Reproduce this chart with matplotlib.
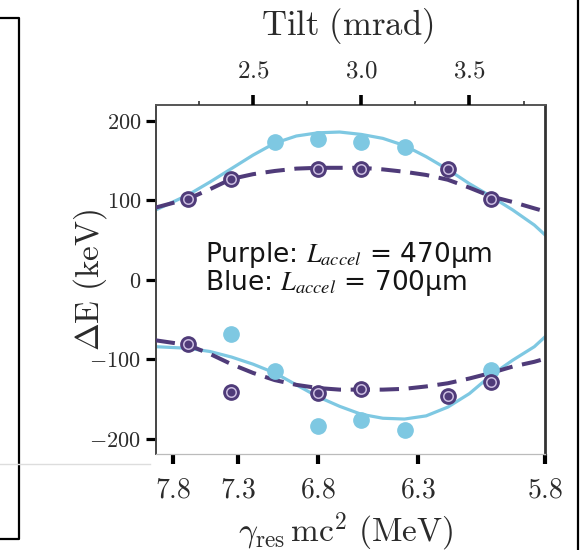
import matplotlib
matplotlib.use("Agg")
import matplotlib.pyplot as plt
from matplotlib.lines import Line2D
from matplotlib.ticker import FixedLocator, FixedFormatter

# ---- data -------------------------------------------------------------
# measured energy shifts (keV) vs. tilt (mrad)
purple_up_tilt = [2.2, 2.4, 2.8, 3.0, 3.4, 3.6]
purple_up_dE = [102, 127, 139, 139, 139, 102]
purple_lo_tilt = [2.2, 2.4, 2.8, 3.0, 3.4, 3.6]
purple_lo_dE = [-81, -141, -142, -137, -146, -129]

blue_up_tilt = [2.6, 2.8, 3.0, 3.2]
blue_up_dE = [174, 177, 174, 167]
blue_lo_tilt = [2.4, 2.6, 2.8, 3.0, 3.2, 3.6]
blue_lo_dE = [-68, -115, -184, -176, -189, -113]

# fitted model curves
fit_tilt = [2.05, 2.2, 2.3, 2.4, 2.5, 2.6, 2.7, 2.8, 2.9, 3.0, 3.1, 3.2,
            3.3, 3.4, 3.5, 3.6, 3.7, 3.8, 3.852]
blue_fit_up = [88, 107, 123, 140, 157, 172, 181, 185, 186, 183, 178, 169,
               155, 139, 121, 105, 88, 69, 56]
blue_fit_lo = [-84, -86, -90, -97, -106, -117, -132, -147, -159, -169, -174,
               -175, -171, -160, -143, -120, -101, -84, -71]
purple_fit_up = [91, 102, 114, 127, 133, 137, 140, 141, 141, 141, 139, 136,
                 132, 126, 116, 105, 98, 90, 86]
purple_fit_lo = [-76, -82, -93, -106, -117, -126, -132, -136, -138, -138,
                 -138, -137, -134, -130, -124, -117, -109, -103, -99]

# axis ticks
tilt_ticks = [2.5, 3.0, 3.5]
tilt_minor = [2.25, 2.75, 3.25, 3.75]
energy_ticks = [7.8, 7.3, 6.8, 6.3, 5.8]
dE_ticks = [-200, -100, 0, 100, 200]

# resonance energy (MeV) <-> tilt (mrad): tilt = K / E^2
K_TILT = 129.5


def energy_to_tilt(e):
    return K_TILT / e ** 2


# ---- styling ----------------------------------------------------------
plt.rcParams["mathtext.fontset"] = "cm"
BLUE = "#7ec8e2"
PURPLE = "#4f3b79"
RING = "#cbbde0"
TXT = "#2b2b2b"

fig = plt.figure(figsize=(5.85, 5.5), dpi=100)
ax = fig.add_axes([0.2662, 0.1745, 0.6655, 0.6346])

# fit curves
ax.plot(fit_tilt, blue_fit_up, color=BLUE, lw=2.3, zorder=2)
ax.plot(fit_tilt, blue_fit_lo, color=BLUE, lw=2.3, zorder=2)
ax.plot(fit_tilt, purple_fit_up, color=PURPLE, lw=2.9, dashes=(4.8, 2.4), zorder=3)
ax.plot(fit_tilt, purple_fit_lo, color=PURPLE, lw=2.9, dashes=(4.8, 2.4), zorder=3)

# blue measurements
for t, v in ((blue_up_tilt, blue_up_dE), (blue_lo_tilt, blue_lo_dE)):
    ax.plot(t, v, ls="none", marker="o", ms=11, mfc=BLUE, mec=BLUE, zorder=4)

# purple measurements: dark disc, light ring, dark centre
for t, v in ((purple_up_tilt, purple_up_dE), (purple_lo_tilt, purple_lo_dE)):
    ax.plot(t, v, ls="none", marker="o", ms=11, mfc=PURPLE, mec=PURPLE, zorder=5)
    ax.plot(t, v, ls="none", marker="o", ms=6.8, mfc=PURPLE, mec=RING,
            mew=1.1, zorder=6)

ax.set_xlim(2.05, energy_to_tilt(energy_ticks[-1]))
ax.set_ylim(-219, 220)

# spines
ax.spines["left"].set_color("#444444")
ax.spines["left"].set_linewidth(1.4)
ax.spines["top"].set_color("#555555")
ax.spines["top"].set_linewidth(1.4)
ax.spines["right"].set_color("#333333")
ax.spines["right"].set_linewidth(2.0)
ax.spines["bottom"].set_color("#bbbbbb")
ax.spines["bottom"].set_linewidth(0.9)

# left: energy shift
ax.yaxis.set_major_locator(FixedLocator(dE_ticks))
ax.yaxis.set_major_formatter(FixedFormatter([f"${v:g}$" for v in dE_ticks]))
ax.tick_params(axis="y", direction="out", length=7, width=2.3, color="black",
               pad=3.5, labelsize=16, labelcolor=TXT)
ax.set_ylabel(r"$\Delta\mathrm{E}\ \mathrm{(keV)}$", fontsize=24, color=TXT)
ax.yaxis.set_label_coords(-0.12, 0.5)

# bottom: resonance energy
ax.xaxis.set_major_locator(FixedLocator([energy_to_tilt(e) for e in energy_ticks]))
ax.xaxis.set_major_formatter(FixedFormatter([f"${e:g}$" for e in energy_ticks]))
ax.tick_params(axis="x", direction="out", length=7.5, width=3.0, color="black",
               pad=8, labelsize=20, labelcolor=TXT)
ax.set_xlabel(r"$\gamma_{\rm res}\,\mathrm{mc}^2\ \mathrm{(MeV)}$", fontsize=24,
              color=TXT)
ax.xaxis.set_label_coords(0.487, -0.163)

# top: tilt
top = ax.twiny()
top.set_xlim(ax.get_xlim())
for s in top.spines.values():
    s.set_visible(False)
top.xaxis.set_major_locator(FixedLocator(tilt_ticks))
top.xaxis.set_major_formatter(FixedFormatter([f"${t:.1f}$" for t in tilt_ticks]))
top.xaxis.set_minor_locator(FixedLocator(tilt_minor))
top.tick_params(axis="x", which="major", direction="out", length=7.5, width=2.6,
                color="black", pad=9, labelsize=18, labelcolor=TXT)
top.tick_params(axis="x", which="minor", direction="out", length=3, width=1.2,
                color="#333333")
top.set_xlabel(r"$\mathrm{Tilt\ (mrad)}$", fontsize=25, color=TXT)
top.xaxis.set_label_coords(0.493, 1.2)

# annotation
for ypix, label in ((262, r"Purple: $L_{accel}$ = 470μm"),
                    (290, r"Blue: $L_{accel}$ = 700μm")):
    fig.text(205 / 585, 1 - ypix / 550, label, fontfamily="DejaVu Sans",
             math_fontfamily="stix", fontsize=19, color="#141414",
             va="baseline", ha="left")


# neighbouring panel frame edges
def fig_line(xs, ys, **kw):
    fig.add_artist(Line2D([x / 585 for x in xs], [1 - y / 550 for y in ys],
                          transform=fig.transFigure, **kw))


fig_line([0, 18.5, 18.5, 0], [18, 18, 539, 539], color="black", lw=1.6)
fig_line([0, 150], [464, 464], color="#dddddd", lw=1.0)
fig_line([578, 578], [0, 550], color="black", lw=1.6)

fig.savefig("out.png", dpi=100)
